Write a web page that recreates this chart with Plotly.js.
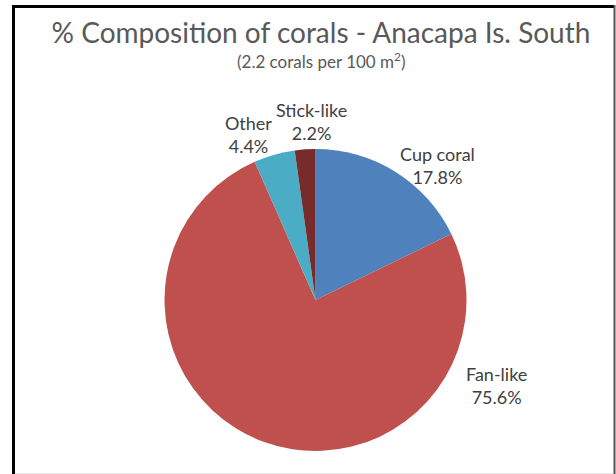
<!DOCTYPE html>
<html><head><meta charset="utf-8">
<script src="https://cdn.plot.ly/plotly-3.0.1.min.js"></script>
<style>html,body{margin:0;padding:0;background:#fff}#chart{width:616px;height:474px}</style>
</head><body><div id="chart"></div>
<script>
const categories = ["Cup coral", "Fan-like", "Other", "Stick-like"];
const percents = [17.8, 75.6, 4.4, 2.2];
const sliceColors = ["#4F81BD", "#C0504D", "#4BACC6", "#772C2A"];
const titleText = "% Composition of corals - Anacapa Is. South";
const subtitleText = "(2.2 corals per 100 m<sup>2</sup>)";

const W = 616, H = 474;
const px = x => x / W, py = y => 1 - y / H;
// label anchor positions (layout, pixels)
const labelPos = [[437, 165], [496, 385], [248, 135], [311, 121]];

const cx = 315.5, cy = 300, R = 151;
const trace = {
  type: "pie",
  labels: categories,
  values: percents,
  sort: false,
  direction: "clockwise",
  rotation: 0,
  textinfo: "none",
  hoverinfo: "label+percent",
  marker: {colors: sliceColors, line: {width: 0}},
  domain: {x: [px(cx - R), px(cx + R)], y: [py(cy + R), py(cy - R)]},
  showlegend: false
};

const labelFont = {family: "Lato, 'Open Sans', sans-serif", size: 18, color: "#404040"};
const annotations = categories.map((c, i) => ({
  xref: "paper", yref: "paper",
  x: px(labelPos[i][0]), y: py(labelPos[i][1]),
  xanchor: "center", yanchor: "middle",
  text: c + "<br>" + percents[i].toFixed(1) + "%",
  showarrow: false, font: labelFont
}));
annotations.push({
  xref: "paper", yref: "paper", x: px(321), y: py(61),
  xanchor: "center", yanchor: "middle", showarrow: false,
  text: subtitleText,
  font: {family: "Lato, 'Open Sans', sans-serif", size: 17, color: "#595959"}
});

const layout = {
  width: W, height: H,
  margin: {l: 0, r: 0, t: 0, b: 0},
  paper_bgcolor: "#ffffff",
  title: {
    text: titleText,
    x: px(321), xanchor: "center",
    y: py(33), yanchor: "middle",
    font: {family: "Lato, 'Open Sans', sans-serif", size: 28, color: "#595959"}
  },
  annotations: annotations,
  shapes: [
    {type: "line", xref: "paper", yref: "paper", x0: px(13.5), x1: px(13.5), y0: py(5), y1: py(474), line: {color: "#000", width: 3}},
    {type: "line", xref: "paper", yref: "paper", x0: px(12), x1: px(615), y0: py(6.5), y1: py(6.5), line: {color: "#000", width: 3}},
    {type: "line", xref: "paper", yref: "paper", x0: px(614.5), x1: px(614.5), y0: py(5), y1: py(474), line: {color: "#555", width: 2}},
    {type: "line", xref: "paper", yref: "paper", x0: px(15), x1: px(613), y0: py(473.5), y1: py(473.5), line: {color: "#e8e8e8", width: 1}}
  ]
};

Plotly.newPlot("chart", [trace], layout, {displayModeBar: false, staticPlot: true});
</script></body></html>
